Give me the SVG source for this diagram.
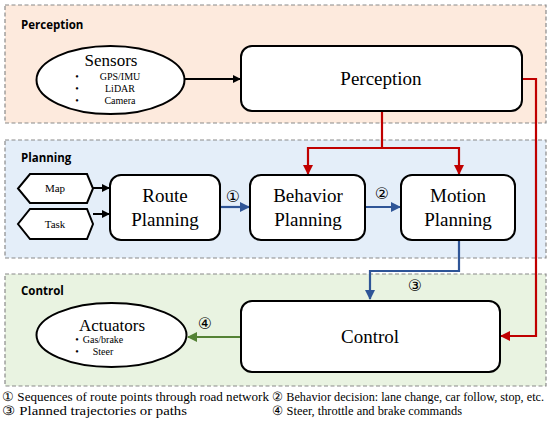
<svg xmlns="http://www.w3.org/2000/svg" width="554" height="428" viewBox="0 0 554 428">
<defs>
<style>
.panel{stroke:#8a8a8a;stroke-width:1.2;stroke-dasharray:4 2.5}
.lbl{font-family:'Open Sans','Liberation Sans',sans-serif;font-weight:bold;font-size:11.5px;fill:#000}
.node{fill:#fff;stroke:#000;stroke-width:2}
.t{font-family:'Liberation Serif','Times New Roman',Times,'Noto Serif','DejaVu Serif',serif;fill:#000;text-anchor:middle}
.big{font-size:19px}
.mid{font-size:17px}
.sm{font-size:10px}
.xs{font-size:11px}
.leg{font-family:'Liberation Serif','Times New Roman',Times,'Noto Serif','DejaVu Serif',serif;font-size:13px;fill:#000}
.num{font-family:'DejaVu Sans',sans-serif;font-size:16px;fill:#000;text-anchor:middle}
.k{fill:none;stroke:#000;stroke-width:2}
.r{fill:none;stroke:#c00000;stroke-width:2.2}
.b{fill:none;stroke:#2f5597;stroke-width:2.2}
.g{fill:none;stroke:#548235;stroke-width:2.2}
</style>
<marker id="ak" markerWidth="8" markerHeight="8" refX="7" refY="4" orient="auto" markerUnits="userSpaceOnUse"><path d="M0,0 L8,4 L0,8 z" fill="#000"/></marker>
<marker id="ar" markerWidth="10" markerHeight="10" refX="9" refY="5" orient="auto" markerUnits="userSpaceOnUse"><path d="M0,0 L10,5 L0,10 z" fill="#c00000"/></marker>
<marker id="ab" markerWidth="10" markerHeight="10" refX="9" refY="5" orient="auto" markerUnits="userSpaceOnUse"><path d="M0,0 L10,5 L0,10 z" fill="#2f5597"/></marker>
<marker id="ag" markerWidth="10" markerHeight="10" refX="9" refY="5" orient="auto" markerUnits="userSpaceOnUse"><path d="M0,0 L10,5 L0,10 z" fill="#548235"/></marker>
</defs>
<rect width="554" height="428" fill="#fff"/>
<g id="panels">
<rect class="panel" x="5" y="5" width="541" height="118" fill="#fdeadd"/>
<text class="lbl" x="21" y="29">Perception</text>
<rect class="panel" x="5" y="140" width="541" height="118" fill="#e4eef9"/>
<text class="lbl" x="21" y="162">Planning</text>
<rect class="panel" x="5" y="274" width="541" height="112" fill="#e9f3e1"/>
<text class="lbl" x="21" y="295">Control</text>
</g>
<g id="connectors">
<line class="k" x1="185" y1="79" x2="240" y2="79" marker-end="url(#ak)"/>
<line class="k" x1="93" y1="188" x2="109" y2="188" marker-end="url(#ak)"/>
<line class="k" x1="93" y1="214" x2="109" y2="214" marker-end="url(#ak)"/>
<path class="r" d="M382,111 V148"/>
<path class="r" d="M308,148 H459"/>
<path class="r" d="M308,147 V174" marker-end="url(#ar)"/>
<path class="r" d="M459,147 V174" marker-end="url(#ar)"/>
<path class="r" d="M522,79 H536 V336 H501" marker-end="url(#ar)"/>
<line class="b" x1="220" y1="207" x2="249" y2="207" marker-end="url(#ab)"/>
<line class="b" x1="365" y1="207" x2="400" y2="207" marker-end="url(#ab)"/>
<path class="b" d="M459,241 V271 H370 V299" marker-end="url(#ab)"/>
<line class="g" x1="240" y1="337" x2="188" y2="337" marker-end="url(#ag)"/>
<text class="num" x="233" y="202">①</text>
<text class="num" x="382" y="199">②</text>
<text class="num" x="415" y="291">③</text>
<text class="num" x="205" y="329">④</text>
</g>
<g id="sensors">
<ellipse class="node" cx="110.5" cy="80" rx="74" ry="34"/>
<text class="t mid" x="111" y="66">Sensors</text>
<text class="t sm" x="77" y="80">•</text><text class="t sm" x="77" y="92">•</text><text class="t sm" x="77" y="104">•</text>
<text class="t sm" x="120" y="80">GPS/IMU</text>
<text class="t sm" x="120" y="92">LiDAR</text>
<text class="t sm" x="120" y="104">Camera</text>
</g>
<g id="perception">
<rect class="node" x="241" y="46" width="281" height="65" rx="11"/>
<text class="t big" x="381" y="85">Perception</text>
</g>
<g id="map">
<polygon class="node" points="30,174 87,174 93,188.5 87,203 30,203 18,188.5" stroke-width="1.8"/>
<text class="t xs" x="55" y="192">Map</text>
</g>
<g id="task">
<polygon class="node" points="30,209 87,209 93,224 87,239 30,239 18,224" stroke-width="1.8"/>
<text class="t xs" x="55" y="228">Task</text>
</g>
<g id="route">
<rect class="node" x="110" y="175" width="110" height="65" rx="11"/>
<text class="t big" x="165" y="202">Route</text>
<text class="t big" x="165" y="226">Planning</text>
</g>
<g id="behavior">
<rect class="node" x="250" y="175" width="115" height="65" rx="11"/>
<text class="t big" x="308" y="202">Behavior</text>
<text class="t big" x="308" y="226">Planning</text>
</g>
<g id="motion">
<rect class="node" x="401" y="175" width="114" height="65" rx="11"/>
<text class="t big" x="458" y="202">Motion</text>
<text class="t big" x="458" y="226">Planning</text>
</g>
<g id="control">
<rect class="node" x="241" y="301" width="259" height="71" rx="11"/>
<text class="t big" x="370" y="343">Control</text>
</g>
<g id="actuators">
<ellipse class="node" cx="111.5" cy="335" rx="75" ry="32"/>
<text class="t mid" x="112" y="331">Actuators</text>
<text class="t sm" x="77" y="343">•</text><text class="t sm" x="77" y="355">•</text>
<text class="t sm" x="103" y="343" text-anchor="start">Gas/brake</text>
<text class="t sm" x="103" y="355" text-anchor="start">Steer</text>
</g>
<g id="legend">
<text class="leg" x="2" y="401" textLength="267" lengthAdjust="spacingAndGlyphs">① Sequences of route points through road network</text>
<text class="leg" x="2" y="415" textLength="185" lengthAdjust="spacingAndGlyphs">③ Planned trajectories or paths</text>
<text class="leg" x="272" y="401" font-size="11" textLength="272" lengthAdjust="spacingAndGlyphs">② Behavior decision: lane change, car follow, stop, etc.</text>
<text class="leg" x="272" y="415" textLength="190" lengthAdjust="spacingAndGlyphs">④ Steer, throttle and brake commands</text>
</g>
</svg>
